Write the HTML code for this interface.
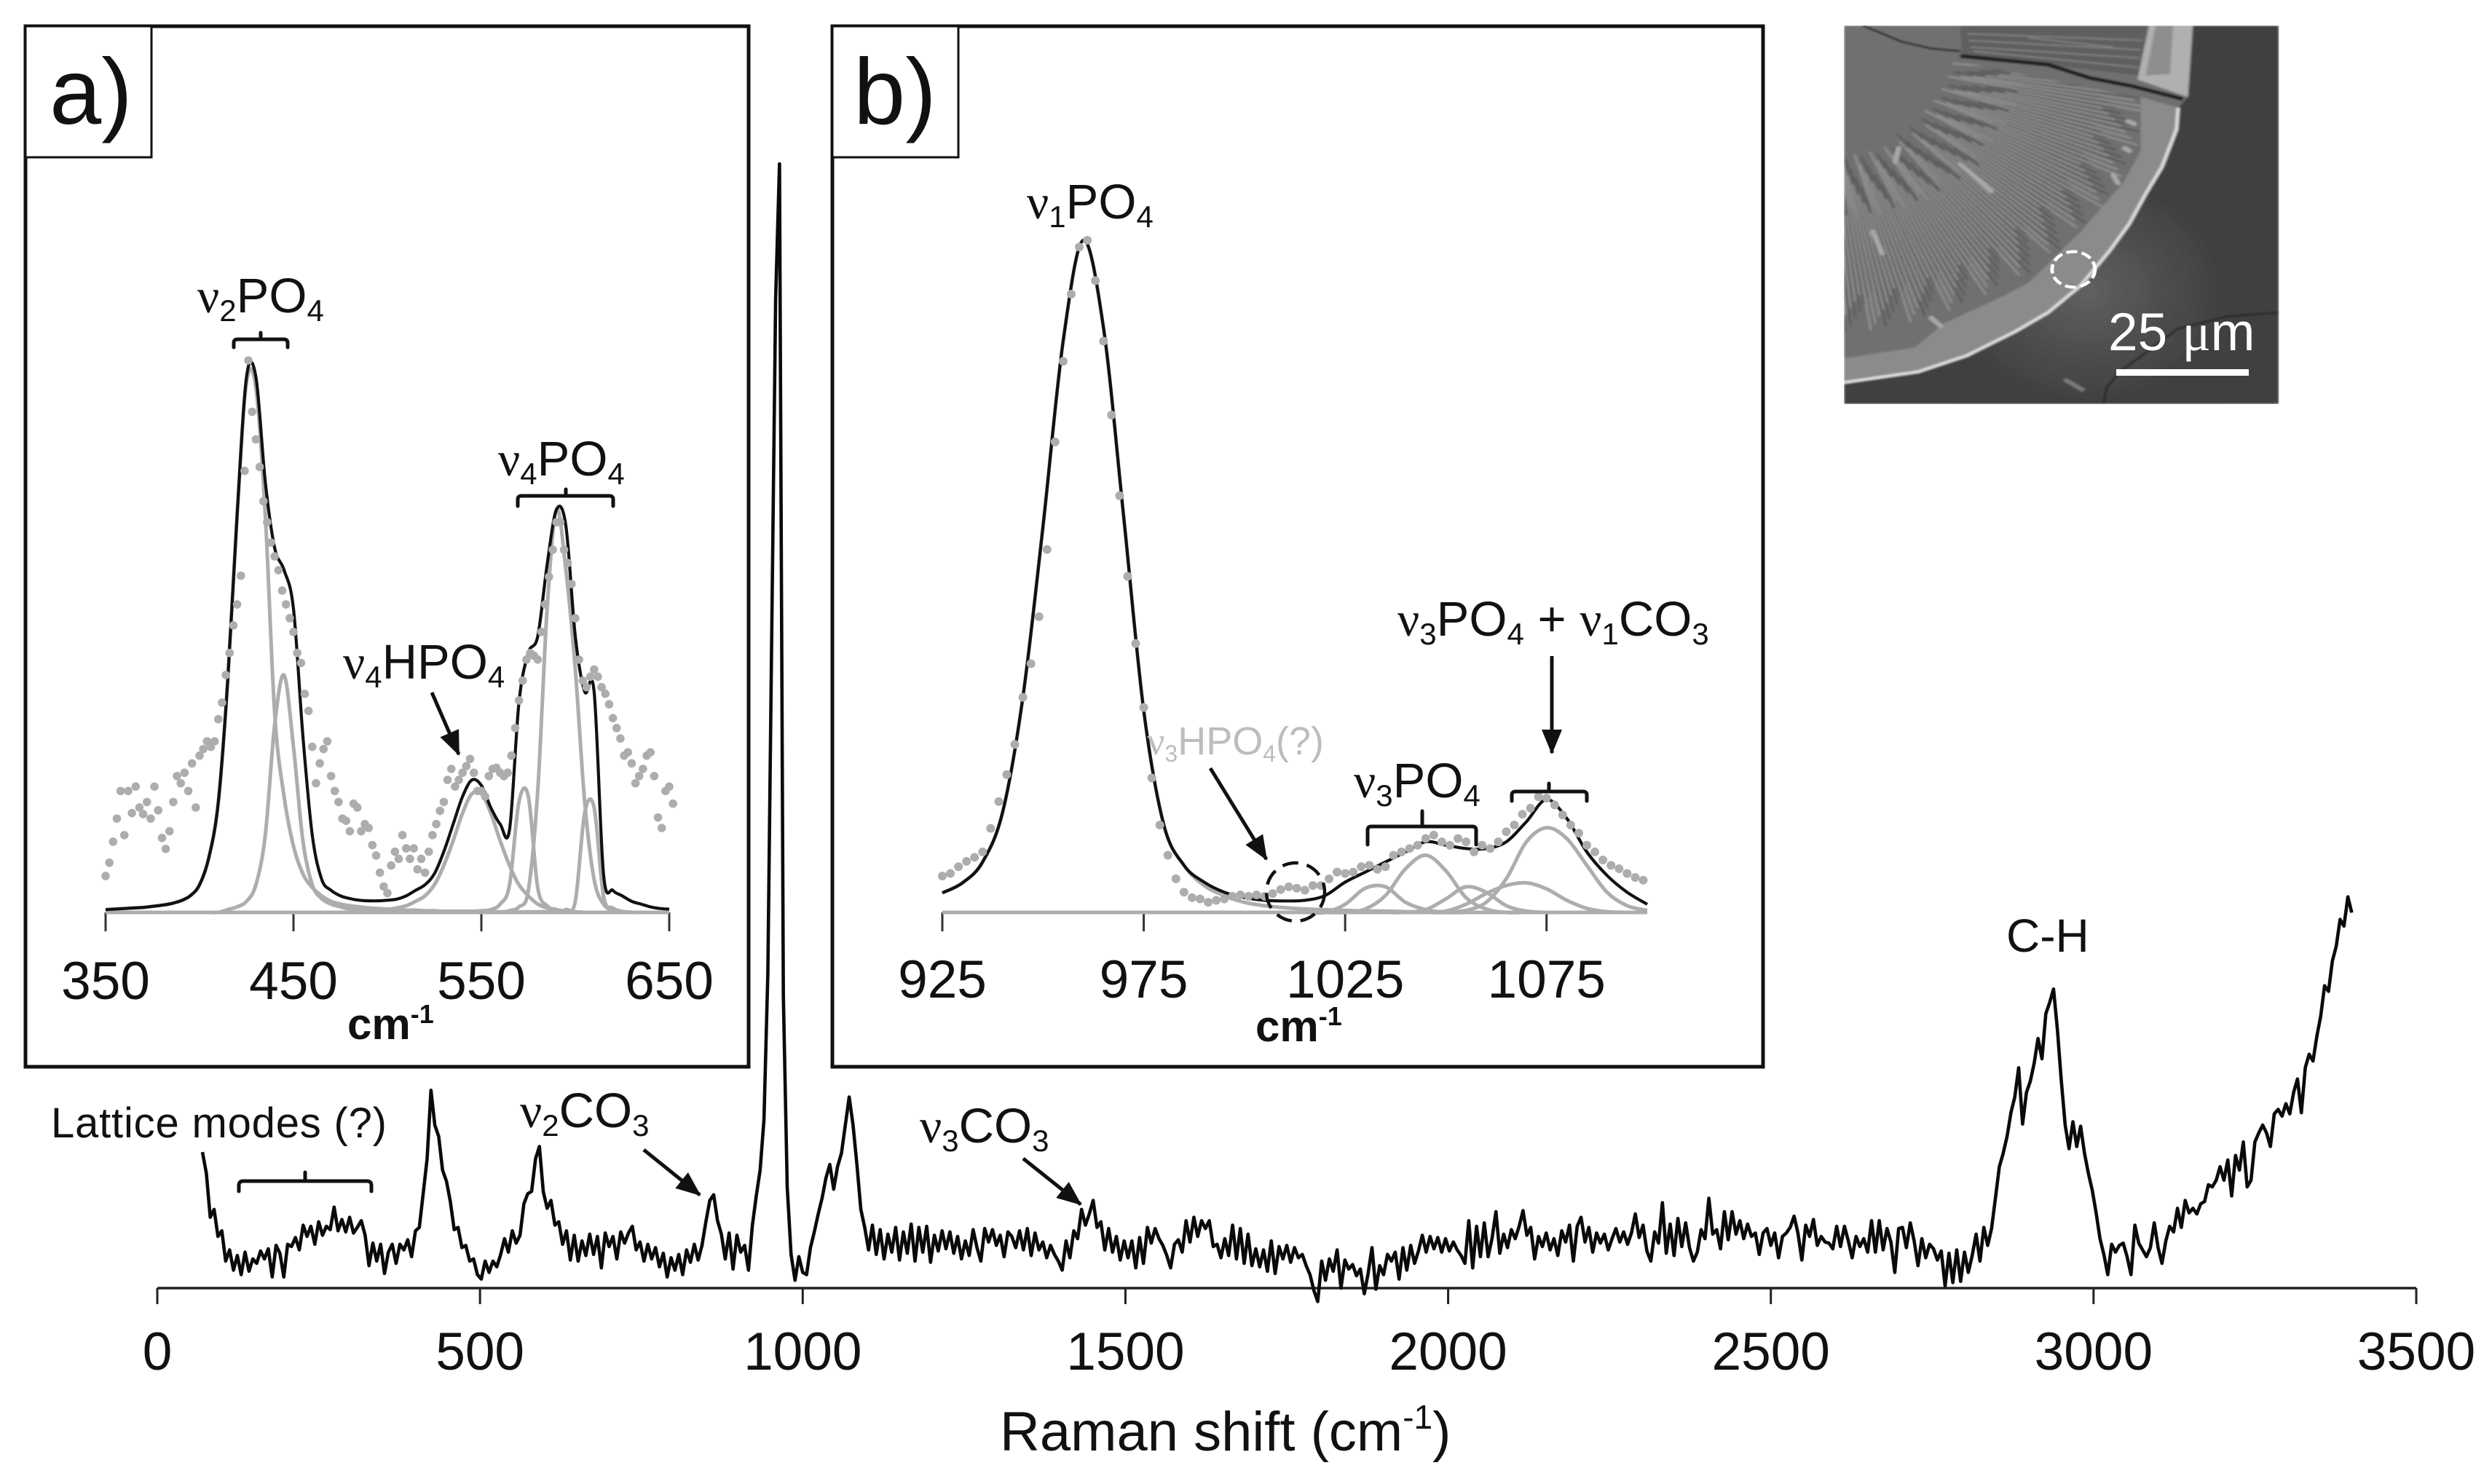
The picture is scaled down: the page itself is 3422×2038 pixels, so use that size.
<!DOCTYPE html>
<html>
<head>
<meta charset="utf-8">
<title>Raman spectrum</title>
<style>
html,body{margin:0;padding:0;background:#fff;}
body{width:3422px;height:2038px;overflow:hidden;}
svg{display:block;}
text{font-family:"Liberation Sans",sans-serif;fill:#111;}
.lbl{font-size:67px;}
.nu{font-family:"Liberation Serif",serif;}
.sub{font-size:42px;}
.tick{font-size:73px;text-anchor:middle;}
.unit{font-size:60px;font-weight:bold;}
.panel{fill:#fff;stroke:#111;stroke-width:5;}
.tag{fill:#fff;stroke:#111;stroke-width:3;}
.br{fill:none;stroke:#111;stroke-width:5;stroke-linecap:round;}
.arr{stroke:#111;stroke-width:5;fill:none;marker-end:url(#arrow-head);}
</style>
</head>
<body>
<svg id="figure" xmlns="http://www.w3.org/2000/svg" width="3422" height="2038" viewBox="0 0 3422 2038">
<defs>
  <marker id="arrow-head" markerUnits="userSpaceOnUse" markerWidth="34" markerHeight="28" refX="32" refY="14" orient="auto"><path d="M0,0L34,14L0,28z" fill="#111"/></marker>
  <clipPath id="sem-clip"><rect x="72" y="95" width="1338" height="1405"/></clipPath>
  <clipPath id="sem-inner"><path d="M430,230L985,365L985,560L930,680L800,860L640,1050L560,1100L380,1200L290,1290L72,1330L72,200z"/></clipPath>
  <radialGradient id="sem-glow" gradientUnits="userSpaceOnUse" cx="820" cy="1080" r="420"><stop offset="0" stop-color="#606060"/><stop offset="0.55" stop-color="#4e4e4e"/><stop offset="1" stop-color="#404040"/></radialGradient>
  <filter id="sem-blur"><feGaussianBlur stdDeviation="3.5"/></filter>
</defs>
<rect width="3422" height="2038" fill="#fff"/>

<g id="main-chart"></g>

<g>
  <text x="70" y="1562" font-size="58" textLength="461" lengthAdjust="spacing">Lattice modes (?)</text>
  <path class="br" d="M328,1636V1628Q328,1622 334,1622H504Q510,1622 510,1628V1636M419,1622V1610"/>
  <text class="lbl" x="714" y="1548"><tspan class="nu">ν</tspan><tspan class="sub" dy="12">2</tspan><tspan dy="-12">CO</tspan><tspan class="sub" dy="12">3</tspan></text>
  <path class="arr" d="M884,1579L961,1641"/>
  <text class="lbl" x="1263" y="1569"><tspan class="nu">ν</tspan><tspan class="sub" dy="12">3</tspan><tspan dy="-12">CO</tspan><tspan class="sub" dy="12">3</tspan></text>
  <path class="arr" d="M1405,1591L1484,1654"/>
  <text x="2755" y="1307" font-size="64">C-H</text>
  <text x="1373" y="1992" font-size="76">Raman shift (cm<tspan font-size="46" dy="-30">-1</tspan><tspan dy="30">)</tspan></text>
</g>

<g>
  <rect class="panel" x="35" y="36" width="993" height="1429"/>
  <g id="chart-a"></g>
  <rect class="tag" x="35" y="36" width="173" height="180"/>
  <text x="68" y="170" font-size="128">a)</text>
  <text class="lbl" x="271" y="429"><tspan class="nu">ν</tspan><tspan class="sub" dy="12">2</tspan><tspan dy="-12">PO</tspan><tspan class="sub" dy="12">4</tspan></text>
  <path class="br" d="M321,477V471Q321,466 326,466H390Q395,466 395,471V477M358,466V457"/>
  <text class="lbl" x="684" y="653"><tspan class="nu">ν</tspan><tspan class="sub" dy="12">4</tspan><tspan dy="-12">PO</tspan><tspan class="sub" dy="12">4</tspan></text>
  <path class="br" d="M711,695V686Q711,681 716,681H837Q842,681 842,686V695M777,681V672"/>
  <text class="lbl" x="471" y="932"><tspan class="nu">ν</tspan><tspan class="sub" dy="12">4</tspan><tspan dy="-12">HPO</tspan><tspan class="sub" dy="12">4</tspan></text>
  <path class="arr" d="M593,951L630,1036"/>
  <text class="unit" x="477" y="1427">cm<tspan font-size="36" dy="-22">-1</tspan></text>
</g>

<g>
  <rect class="panel" x="1143" y="36" width="1278" height="1429"/>
  <g id="chart-b"></g>
  <rect class="tag" x="1143" y="36" width="173" height="180"/>
  <text x="1172" y="170" font-size="128">b)</text>
  <text class="lbl" x="1410" y="300"><tspan class="nu">ν</tspan><tspan class="sub" dy="12">1</tspan><tspan dy="-12">PO</tspan><tspan class="sub" dy="12">4</tspan></text>
  <text class="lbl" x="1919" y="873"><tspan class="nu">ν</tspan><tspan class="sub" dy="12">3</tspan><tspan dy="-12">PO</tspan><tspan class="sub" dy="12">4</tspan><tspan dy="-12"> + </tspan><tspan class="nu">ν</tspan><tspan class="sub" dy="12">1</tspan><tspan dy="-12">CO</tspan><tspan class="sub" dy="12">3</tspan></text>
  <path class="arr" d="M2131,901V1034"/>
  <path class="br" d="M2076,1100V1092Q2076,1087 2081,1087H2174Q2179,1087 2179,1092V1100M2127,1087V1076"/>
  <text x="1575" y="1036" font-size="54" style="fill:#bdbdbd"><tspan class="nu">ν</tspan><tspan font-size="32" dy="10">3</tspan><tspan dy="-10">HPO</tspan><tspan font-size="32" dy="10">4</tspan><tspan dy="-10">(?)</tspan></text>
  <path class="arr" d="M1662,1055L1739,1180"/>
  <ellipse cx="1779" cy="1225" rx="40" ry="40" fill="none" stroke="#111" stroke-width="4.5" stroke-dasharray="22 12"/>
  <text class="lbl" x="1859" y="1095"><tspan class="nu">ν</tspan><tspan class="sub" dy="12">3</tspan><tspan dy="-12">PO</tspan><tspan class="sub" dy="12">4</tspan></text>
  <path class="br" d="M1878,1160V1140Q1878,1135 1883,1135H2022Q2027,1135 2027,1140V1160M1953,1135V1114"/>
  <text class="unit" x="1724" y="1430">cm<tspan font-size="36" dy="-22">-1</tspan></text>
</g>

<g>
  <g transform="translate(2500,0) scale(0.4464,0.36995)" clip-path="url(#sem-clip)">
    <g filter="url(#sem-blur)">
      <rect x="72" y="95" width="1338" height="1405" fill="#3f3f3f"/>
      <rect x="400" y="660" width="840" height="840" fill="url(#sem-glow)"/>
      <path fill="#6f6f6f" d="M72,95L1145,95L1130,360L1100,400L1095,480L1050,620L1000,720L950,830L890,930L800,1060L700,1160L600,1230L450,1320L300,1380L72,1420z"/>
      <path fill="#8b8b8b" d="M985,360L1100,400L1095,480L1050,620L1000,720L950,830L890,930L800,1060L700,1160L600,1230L450,1320L300,1380L72,1420L72,1330L290,1290L380,1200L560,1100L640,1050L800,860L930,680L985,560z"/>
      <path fill="#5f5f5f" d="M430,95L1010,95L985,280L435,205z"/>
      <path fill="none" stroke="#858585" stroke-width="5" d="M450,125L990,150M455,150L985,185M460,175L980,215M470,190L975,250M640,140L900,175"/>
      <path fill="#b0b0b0" d="M1010,95L1145,95L1130,360L975,295z"/>
      <path fill="#8e8e8e" d="M1030,95L1085,95L1075,275L1000,280z"/>
      <path fill="none" stroke="#e2e2e2" stroke-width="10" d="M1100,400L1095,480L1050,620L1000,720L950,830L890,930L800,1060L700,1160L600,1230L450,1320L300,1380L72,1420"/>
      <path fill="none" stroke="#222" stroke-width="7" d="M130,95L250,155L340,180L430,190"/>
      <path fill="none" stroke="#1c1c1c" stroke-width="14" d="M430,208L700,240L830,290L960,320L1115,368"/>
      <path fill="none" stroke="#262626" stroke-width="7" d="M870,1500L880,1440L920,1380L1000,1310L1100,1220L1250,1175L1410,1160"/>
      <path fill="none" stroke="#7c7c7c" stroke-width="14" d="M750,1408L810,1450"/>
      <g id="sem-rays" clip-path="url(#sem-inner)"></g>
      <path fill="none" stroke="#a8a8a8" stroke-width="16" stroke-linecap="round" d="M900,650L915,680M935,550L950,560M945,450L965,460M430,610L525,710M240,550L230,600M160,860L190,940M340,1180L370,1210"/>
    </g>
    <ellipse cx="778" cy="1000" rx="66" ry="66" fill="none" stroke="#fff" stroke-width="11" stroke-dasharray="34 14"/>
  </g>
  <text x="2895" y="481" font-size="73" style="fill:#fff">25 <tspan class="nu">μ</tspan>m</text>
  <rect x="2906" y="507" width="182" height="9" fill="#fff"/>
</g>
</svg>

<script>
// ---------- main spectrum data (intensity, arbitrary units; one value every 6 cm-1 from 70) ----------
const mainShiftStart = 70;
const mainShiftStep = 6;
const mainTickLabels = [0,500,1000,1500,2000,2500,3000,3500];
const mainIntensity = [
12.1,10.2,6.3,7,4.6,5.1,2.4,3.4,1.6,2.9,1.2,3.2,1.5,2.6,2.2,3.3,
2.6,3.5,1,3.8,3.1,1,3.9,3.7,4.5,3.4,5.6,4.6,5.5,3.9,5.9,4.7,5.5,5.2,7.2,5.1,6.1,5,6.3,4.9,
5.4,6,4.7,2,4,2.4,3.9,1.3,3.2,3.9,2.2,3.9,3.4,4.3,2.8,5.1,5.4,8.4,11.5,17.6,
14.5,13.5,10.5,9.5,7.7,5.2,5.4,3.6,3.8,2.4,2.6,1.2,0.8,2.4,1.4,2.4,1.9,3,4.4,3.2,
5.1,4,4.7,7.5,8.4,8.6,11.5,12.6,8.6,7.1,7.8,5.6,5.9,3.9,5.1,2.5,4.7,2.4,4.2,2.9,
4.8,3,4.6,1.8,4.9,3.7,4.6,2.6,5,4,4.9,5.5,3.4,4.1,2.4,3.9,2.6,3.6,1.9,3.1,
1,2.7,1.6,3,1.2,3.4,2.3,3.9,2.5,3.8,5.9,7.8,8.3,6,4.8,2.6,4.9,1.7,4.7,3.2,
3.8,1.6,5.6,8.2,10.5,15,28,58,88,100,26,9,3,0.7,2.8,1.4,1.2,3.6,5,6.6,8,
9.8,11,8.8,10.8,12,14.5,17,14.5,11,7,5.4,3.4,5.6,3,5.2,2.6,4.8,3.2,5.4,2.5,
5,3.1,5.7,2.4,5.4,3.2,5.5,2.3,4.7,3.3,5.1,3.5,
5,3.1,4.6,2.6,4.2,2.9,5.2,3.6,2.4,5.3,4.1,5.2,3.8,4.7,2.8,5,4.6,3.6,5.1,3.4,
5.3,2.9,4.9,3.4,4.1,2.7,3.8,3,2.4,1.6,4.2,2.7,5.1,4.4,7,5.6,6.6,7.8,5.4,5.9,
3.4,5.3,3.2,4.6,2.5,4.2,2.7,4.2,1.8,4.5,2.2,5.4,4,5.3,4.4,3.8,2.9,1.8,3.9,4.3,
3.2,6,4.1,6.3,4.6,6,5.3,6,3.7,3.9,2.7,4.4,2.9,5.6,2.6,5.3,2.2,4.8,2,3.5,
1.9,3.4,1.5,4.2,1.3,3.7,2.6,3.8,2.3,3.6,2.7,3,2,1.2,-0.2,-1.2,2.4,0.7,2.6,1.5,
3.4,0,2.5,1.7,2.1,1.1,1.7,-0.5,1.3,3.6,-0.1,2,1.2,3,2.4,3.2,0.8,3.6,1.6,3.8,
2.2,3.3,4.7,3.2,4.6,3.5,4.5,3.2,4.4,3.3,4.1,3.4,2.9,2.2,6,1.8,5.5,2.8,5.8,2.8,
4.4,6.8,3.1,4.8,3.6,5.2,4.4,5.5,6.9,4.7,5.4,2.6,4.6,3.7,4.9,3.4,4.4,2.9,5.1,4.1,
5.6,2.4,5.5,6.3,4.1,5.4,3.2,4.9,4,4.8,3.4,4.4,5.3,4.1,5,3.9,4.9,6.6,4.5,5.6,
3.3,2.4,5,4,7.6,3.1,5.7,2.9,6.2,3.7,5.8,3.6,2.4,3.2,5.2,4.4,8,4.8,5.2,3.5,
6.8,4.3,6.8,4.8,6,4.4,
5.7,4.6,4.9,3,4.9,5.3,3.8,4.9,2.7,4.6,4.9,5.4,6.4,4.9,2.5,5.6,4.6,6.1,3.8,4.6,
4.1,4,3.5,5.5,3.7,5.5,4.2,2.7,4.6,3.7,4.4,3.2,6,3.2,6,3.4,5.3,4.1,1.4,5.3,
5.4,3.6,5.8,4.2,2,4.4,2.7,3.9,3.5,2.5,3.3,0.2,3.1,0.5,3.4,0.6,3.2,1.4,2.9,4.8,
2.4,5.4,3.8,5.3,8,10.8,12,13.5,15.6,17,19.6,14.6,17.4,18.4,20,22.2,20.4,24.4,25.4,26.6,
23,18.5,14.5,12.4,14.8,12.6,14.4,12,10.2,8.7,6.7,4.4,3,1.2,3.9,3.2,3.8,4,2.8,1.2,
5.6,4,3.4,2.8,3.6,5.8,3.6,2.2,4.2,5.5,5,7.1,5.4,7.8,6.7,7.1,6.6,7.5,7.7,9.2,
9,9.6,10.8,9.6,11.4,8.2,11.8,10.5,13,9,9.6,13,13.8,14.5,13.8,12.6,15.5,15.9,15.3,16.4,
15.5,17.4,18.6,15.6,19.6,20.8,20.2,22.4,24.2,26.9,26.4,29.1,30.4,32.8,32.2,34.8,33.4
];

// ---------- inset a data (normalised intensity; curves every 5 cm-1 from 350, points every 2 cm-1) ----------
const insetAStart = 350;
const insetACurveStep = 5;
const insetADotStep = 2;
const insetATickLabels = [350,450,550,650];
const insetAFit = [.005,.006,.007,.008,.009,.011,.013,.016,.021,.03,.05,.10,.20,.42,.72,.97,.97,.78,.66,.62,.55,.32,.14,.06,.04,.03,.025,.022,.021,.021,.022,.024,.03,.04,.05,.07,.11,.16,.21,.24,.23,.19,.16,.15,.38,.47,.50,.63,.73,.70,.50,.40,.40,.07,.04,.03,.02,.015,.01,.007,.006];
const insetAPeak1 = [.005,.006,.007,.008,.009,.011,.013,.016,.021,.03,.05,.10,.20,.42,.72,.96,.95,.72,.36,.21,.12,.07,.045,.03,.02,.015,.012,.01,.008,.007,.006,.005,.004,.004,.003,.003,.002,.002,.002,.002,.001,.001,.001,.001,.001,.001,.001,.001,0,0,0,0,0,0,0,0,0,0,0,0,0];
const insetAPeak2 = [0,0,0,0,0,0,0,0,0,0,0,0,0,.005,.01,.02,.05,.14,.34,.43,.30,.13,.05,.025,.015,.01,.006,.004,.003,.002,.002,.001,.001,0,0,0,0,0,0,0,0,0,0,0,0,0,0,0,0,0,0,0,0,0,0,0,0,0,0,0,0];
const insetAPeak3 = [0,0,0,0,0,0,0,0,0,0,0,0,0,0,0,0,0,0,0,0,0,0,0,0,0,0,0,.001,.002,.003,.005,.008,.012,.02,.03,.05,.085,.13,.18,.215,.215,.18,.13,.085,.05,.03,.015,.008,.004,.002,.001,0,0,0,0,0,0,0,0,0,0];
const insetAPeak4 = [0,0,0,0,0,0,0,0,0,0,0,0,0,0,0,0,0,0,0,0,0,0,0,0,0,0,0,0,0,0,0,0,0,0,0,0,0,.001,.002,.002,.003,.005,.015,.05,.20,.21,.045,.012,.005,.002,.001,0,0,0,0,0,0,0,0,0,0];
const insetAPeak5 = [0,0,0,0,0,0,0,0,0,0,0,0,0,0,0,0,0,0,0,0,0,0,0,0,0,0,0,0,0,0,0,0,0,0,0,0,0,0,0,0,0,0,0,.003,.01,.04,.22,.55,.73,.62,.44,.20,.06,.015,.004,.001,0,0,0,0,0];
const insetAPeak6 = [0,0,0,0,0,0,0,0,0,0,0,0,0,0,0,0,0,0,0,0,0,0,0,0,0,0,0,0,0,0,0,0,0,0,0,0,0,0,0,0,0,0,0,0,0,0,0,0,.001,.005,.02,.18,.19,.03,.008,.002,0,0,0,0,0];
const insetADots = [.066,.09,.128,.17,.22,.14,.22,.18,.228,.19,.178,.2,.17,.228,.185,.135,.115,.147,.2,.247,.234,.253,.22,.27,.19,.284,.296,.31,.30,.31,.35,.38,.43,.47,.52,.558,.61,.80,1.0,.907,.857,.807,.745,.707,.67,.645,.62,.583,.558,.533,.508,.47,.452,.396,.365,.30,.234,.27,.296,.31,.247,.22,.2,.17,.166,.147,.197,.19,.147,.16,.153,.122,.103,.072,.047,.035,.085,.11,.097,.14,.116,.097,.116,.078,.097,.072,.11,.14,.16,.184,.2,.24,.26,.228,.24,.253,.265,.278,.253,.22,.22,.21,.247,.26,.262,.253,.247,.253,.284,.334,.384,.42,.458,.47,.465,.458,.508,.558,.608,.657,.707,.707,.657,.633,.595,.533,.458,.42,.408,.427,.44,.427,.408,.396,.377,.352,.334,.315,.284,.29,.27,.234,.247,.26,.284,.29,.247,.172,.153,.22,.228,.197];

// ---------- inset b data (normalised intensity; curves every 5 cm-1 from 925, points every 2 cm-1) ----------
const insetBStart = 925;
const insetBCurveStep = 5;
const insetBDotStep = 2;
const insetBTickLabels = [925,975,1025,1075];
const insetBFit = [.029,.044,.075,.15,.32,.575,.85,1.0,.87,.59,.30,.13,.07,.045,.03,.022,.018,.017,.018,.025,.045,.06,.075,.09,.105,.10,.095,.095,.105,.135,.168,.14,.09,.055,.03,.012];
const insetBPeak1 = [.029,.044,.075,.15,.32,.575,.85,1.0,.87,.59,.30,.13,.07,.04,.025,.015,.01,.007,.005,.004,.003,.002,.002,.001,.001,.001,0,0,0,0,0,0,0,0,0,0];
const insetBPeak2 = [0,0,0,0,0,0,0,0,0,0,0,0,0,0,0,0,0,0,0,0,.012,.036,.038,.015,.004,0,0,0,0,0,0,0,0,0,0,0];
const insetBPeak3 = [0,0,0,0,0,0,0,0,0,0,0,0,0,0,0,0,0,0,0,0,0,.005,.025,.065,.085,.062,.022,.005,0,0,0,0,0,0,0,0];
const insetBPeak4 = [0,0,0,0,0,0,0,0,0,0,0,0,0,0,0,0,0,0,0,0,0,0,0,0,.004,.02,.038,.03,.01,.002,0,0,0,0,0,0];
const insetBPeak5 = [0,0,0,0,0,0,0,0,0,0,0,0,0,0,0,0,0,0,0,0,0,0,0,0,0,.002,.012,.028,.04,.044,.035,.018,.006,.001,0,0];
const insetBPeak6 = [0,0,0,0,0,0,0,0,0,0,0,0,0,0,0,0,0,0,0,0,0,0,0,0,0,0,.003,.015,.05,.105,.126,.11,.07,.03,.01,.003];
const insetBDots = [.054,.058,.068,.076,.082,.09,.125,.165,.205,.25,.32,.37,.44,.54,.70,.82,.92,.99,1.0,.94,.85,.74,.62,.50,.40,.305,.20,.13,.085,.05,.03,.022,.02,.015,.018,.02,.024,.026,.024,.026,.024,.028,.034,.038,.036,.033,.04,.04,.05,.06,.058,.06,.068,.07,.064,.068,.085,.09,.095,.10,.11,.115,.105,.10,.11,.105,.09,.10,.095,.105,.12,.13,.146,.155,.172,.17,.16,.145,.13,.118,.10,.09,.078,.07,.065,.058,.052,.048];

// ---------- axis functions ----------
const NS = 'http://www.w3.org/2000/svg';
function mainX(shift){ return 216 + shift * (3318 - 216) / 3500; }
function mainY(value){ return 1769 - value * (1769 - 225) / 100; }
function aX(shift){ return 145 + (shift - 350) * (919 - 145) / 300; }
function aY(value){ return 1253 - value * (1253 - 495); }
function bX(shift){ return 1294 + (shift - 925) * (2262 - 1294) / 175; }
function bY(value){ return 1253 - value * (1253 - 330); }

function make(tag, parent, attrs){
  const el = document.createElementNS(NS, tag);
  for (const k in attrs) el.setAttribute(k, attrs[k]);
  parent.appendChild(el);
  return el;
}
function seriesPoints(values, start, step, xf, yf){
  return values.map(function(v, i){ return [xf(start + i * step), yf(v)]; });
}
function polyPath(pts){
  return 'M' + pts.map(function(p){ return p[0].toFixed(1) + ',' + p[1].toFixed(1); }).join('L');
}
function smoothPath(pts){
  let d = 'M' + pts[0][0].toFixed(1) + ',' + pts[0][1].toFixed(1);
  for (let i = 0; i < pts.length - 1; i++){
    const p0 = pts[Math.max(i - 1, 0)], p1 = pts[i], p2 = pts[i + 1], p3 = pts[Math.min(i + 2, pts.length - 1)];
    const c1x = p1[0] + (p2[0] - p0[0]) / 6, c1y = p1[1] + (p2[1] - p0[1]) / 6;
    const c2x = p2[0] - (p3[0] - p1[0]) / 6, c2y = p2[1] - (p3[1] - p1[1]) / 6;
    d += 'C' + c1x.toFixed(1) + ',' + c1y.toFixed(1) + ' ' + c2x.toFixed(1) + ',' + c2y.toFixed(1) + ' ' + p2[0].toFixed(1) + ',' + p2[1].toFixed(1);
  }
  return d;
}

// ---------- main chart ----------
const mainG = document.getElementById('main-chart');
const mainAxis = make('line', mainG, {x1: mainX(0), x2: mainX(3500), y1: 1769, y2: 1769, stroke: '#222', 'stroke-width': 3.5});


mainTickLabels.forEach(function(label){
  const mark = make('line', mainG, {x1: mainX(label), x2: mainX(label), y1: 1769, y2: 1791, stroke: '#222', 'stroke-width': 3});
  
  
  const txt = make('text', mainG, {x: mainX(label), y: 1881, 'class': 'tick'});
  txt.textContent = label;
  
  
});
const mainLine = make('path', mainG, {d: polyPath(seriesPoints(mainIntensity, mainShiftStart, mainShiftStep, mainX, mainY)), fill: 'none', stroke: '#0a0a0a', 'stroke-width': 4.6, 'stroke-linejoin': 'round'});



// ---------- inset builder ----------
function tickLayer(group, labels, xf, x0, x1, labelY){
  const axis = make('line', group, {x1: x0, x2: x1, y1: 1253, y2: 1253, stroke: '#555', 'stroke-width': 3});
  
  
  labels.forEach(function(label){
    const mark = make('line', group, {x1: xf(label), x2: xf(label), y1: 1253, y2: 1279, stroke: '#333', 'stroke-width': 3});
    
    
    const txt = make('text', group, {x: xf(label), y: labelY, 'class': 'tick'});
    txt.textContent = label;
    
    
  });
}
function componentLayer(group, curves, start, step, xf, yf){
  curves.forEach(function(values){
    const comp = make('path', group, {d: smoothPath(seriesPoints(values, start, step, xf, yf)), fill: 'none', stroke: '#adadad', 'stroke-width': 5, 'stroke-linejoin': 'round'});
    
    
  });
}
function fitLayer(group, values, start, step, xf, yf){
  const fit = make('path', group, {d: smoothPath(seriesPoints(values, start, step, xf, yf)), fill: 'none', stroke: '#111', 'stroke-width': 4.2, 'stroke-linejoin': 'round'});
  
  
}
function dotLayer(group, values, start, step, xf, yf, radius){
  values.forEach(function(v, i){
    const dot = make('circle', group, {cx: xf(start + i * step), cy: yf(v), r: radius, fill: '#adadad'});
    
    
  });
}

const groupA = document.getElementById('chart-a');
tickLayer(groupA, insetATickLabels, aX, 145, 919, 1372);
componentLayer(groupA, [insetAPeak1, insetAPeak2, insetAPeak3, insetAPeak4, insetAPeak5, insetAPeak6], insetAStart, insetACurveStep, aX, aY);
fitLayer(groupA, insetAFit, insetAStart, insetACurveStep, aX, aY);
dotLayer(groupA, insetADots, insetAStart, insetADotStep, aX, aY, 5.8);

const groupB = document.getElementById('chart-b');
tickLayer(groupB, insetBTickLabels, bX, 1294, 2262, 1370);
componentLayer(groupB, [insetBPeak1, insetBPeak2, insetBPeak3, insetBPeak4, insetBPeak5, insetBPeak6], insetBStart, insetBCurveStep, bX, bY);
fitLayer(groupB, insetBFit, insetBStart, insetBCurveStep, bX, bY);
dotLayer(groupB, insetBDots, insetBStart, insetBDotStep, bX, bY, 6);

// ---------- SEM striations (decorative texture, not chart data) ----------
const rays = document.getElementById('sem-rays');
let lightRays = '', darkRays = '';
for (let i = 0; i < 320; i++){
  const angle = (-8 + i * 0.335) * Math.PI / 180;
  const r1 = 380 + 260 * ((i * 0.618) % 1);
  const r2 = r1 + 240 + 420 * ((i * 0.382) % 1);
  const cx = 0, cy = 200;
  const seg = 'M' + (cx + r1 * Math.cos(angle)).toFixed(0) + ',' + (cy + r1 * Math.sin(angle)).toFixed(0) + 'L' + (cx + r2 * Math.cos(angle)).toFixed(0) + ',' + (cy + r2 * Math.sin(angle)).toFixed(0);
  if (i % 3 === 0) { lightRays += seg; } else if (i % 3 === 1) { darkRays += seg; }
}
const darkPath = make('path', rays, {d: darkRays, stroke: '#4e4e4e', 'stroke-width': 6, fill: 'none', opacity: 0.7});


const lightPath = make('path', rays, {d: lightRays, stroke: '#a0a0a0', 'stroke-width': 6, fill: 'none', opacity: 0.75});


</script>
</body>
</html>
